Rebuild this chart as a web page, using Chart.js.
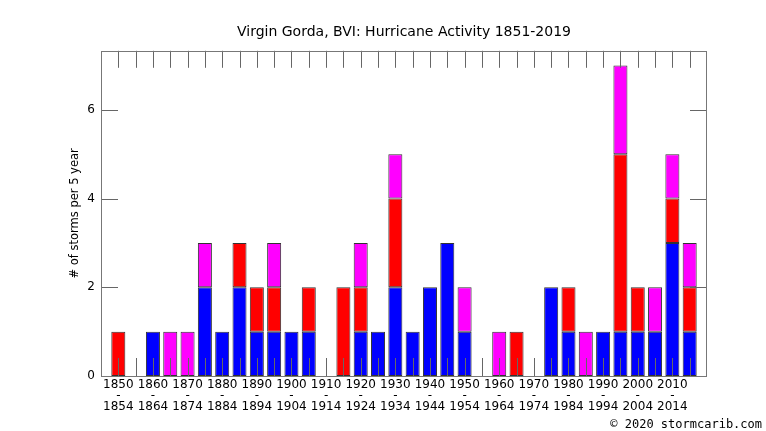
<!DOCTYPE html>
<html>
<head>
<meta charset="utf-8">
<script src="https://cdn.jsdelivr.net/npm/chart.js@4/dist/chart.umd.min.js"></script>
<style>
  html, body { margin: 0; padding: 0; background: #fff; }
  #wrap { width: 766px; height: 431px; position: relative; }
</style>
</head>
<body>
<div id="wrap"><canvas id="stormChart"></canvas></div>
<script>
// 5-year periods, 1850-1854 .. 2015-2019
const periods = [
  '1850-1854', '1855-1859', '1860-1864', '1865-1869', '1870-1874', '1875-1879',
  '1880-1884', '1885-1889', '1890-1894', '1895-1899', '1900-1904', '1905-1909',
  '1910-1914', '1915-1919', '1920-1924', '1925-1929', '1930-1934', '1935-1939',
  '1940-1944', '1945-1949', '1950-1954', '1955-1959', '1960-1964', '1965-1969',
  '1970-1974', '1975-1979', '1980-1984', '1985-1989', '1990-1994', '1995-1999',
  '2000-2004', '2005-2009', '2010-2014', '2015-2019',
];
const blueCounts = [0, 0, 1, 0, 0, 2, 1, 2, 1, 1, 1, 1, 0, 0, 1, 1, 2, 1, 2, 3, 1, 0, 0, 0, 0, 2, 1, 0, 1, 1, 1, 1, 3, 1];
const redCounts = [1, 0, 0, 0, 0, 0, 0, 1, 1, 1, 0, 1, 0, 2, 1, 0, 2, 0, 0, 0, 0, 0, 0, 1, 0, 0, 1, 0, 0, 4, 1, 0, 1, 1];
const magentaCounts = [0, 0, 0, 1, 1, 1, 0, 0, 0, 1, 0, 0, 0, 0, 1, 0, 1, 0, 0, 0, 1, 0, 1, 0, 0, 0, 0, 1, 0, 2, 0, 1, 1, 1];
const yTicks = [0, 2, 4, 6];

const FONT = 'DejaVu Sans';

function toPoints(values) {
  return values.map((v, i) => ({ x: i, y: v || null }));
}

// frame, inward tick marks and copyright line
const frameTicks = {
  id: 'frameTicks',
  afterDatasetsDraw(chart) {
    const { ctx, chartArea: a, scales } = chart;
    ctx.save();
    ctx.lineWidth = 1;
    ctx.strokeStyle = '#666';
    ctx.beginPath();
    periods.forEach((p, i) => {
      const px = Math.round(scales.x.getPixelForValue(i)) + 0.5;
      ctx.moveTo(px, a.bottom);
      ctx.lineTo(px, a.bottom - 18);
      ctx.moveTo(px, a.top);
      ctx.lineTo(px, a.top + 17);
    });
    yTicks.forEach((t) => {
      const py = Math.round(scales.y.getPixelForValue(t)) + 0.5;
      ctx.moveTo(a.left, py);
      ctx.lineTo(a.left + 17, py);
      ctx.moveTo(a.right, py);
      ctx.lineTo(a.right - 17, py);
    });
    ctx.stroke();
    ctx.strokeStyle = '#777';
    ctx.strokeRect(Math.round(a.left) + 0.5, Math.round(a.top) + 0.5,
      Math.round(a.right - a.left) - 1, Math.round(a.bottom - a.top));
    ctx.restore();
  },
  afterDraw(chart) {
    const { ctx } = chart;
    ctx.save();
    ctx.font = '12px "DejaVu Sans Mono"';
    ctx.fillStyle = '#000';
    ctx.textAlign = 'right';
    ctx.textBaseline = 'middle';
    ctx.fillText('\u00a9 2020 stormcarib.com', 762, 425);
    ctx.restore();
  },
};

const ctx = document.getElementById('stormChart').getContext('2d');
new Chart(ctx, {
  type: 'bar',
  data: {
    datasets: [
      { label: 'blue', data: toPoints(blueCounts), backgroundColor: '#0000ff' },
      { label: 'red', data: toPoints(redCounts), backgroundColor: '#ff0000' },
      { label: 'magenta', data: toPoints(magentaCounts), backgroundColor: '#ff00ff' },
    ],
  },
  options: {
    responsive: true,
    maintainAspectRatio: false,
    animation: false,
    layout: { padding: { left: 0, right: 59, top: 0, bottom: 0 } },
    datasets: {
      bar: {
        borderColor: '#333',
        borderWidth: 1,
        borderSkipped: false,
        categoryPercentage: 1,
        barPercentage: 0.81,
      },
    },
    plugins: {
      legend: { display: false },
      tooltip: { enabled: false },
      title: {
        display: true,
        text: 'Virgin Gorda, BVI: Hurricane Activity 1851-2019',
        color: '#000',
        fullSize: false,
        font: { family: FONT, size: 14, weight: 'normal', lineHeight: 1.2 },
        padding: { top: 24, bottom: 10 },
      },
    },
    scales: {
      x: {
        type: 'linear',
        stacked: true,
        offset: false,
        min: -1,
        max: 34,
        grid: { display: false, drawTicks: false },
        border: { display: false },
        afterFit: (s) => { s.height = 55; },
        ticks: {
          stepSize: 1,
          autoSkip: false,
          maxRotation: 0,
          includeBounds: false,
          padding: 3,
          color: '#000',
          font: { family: FONT, size: 12, lineHeight: 0.94 },
          callback: (v) => {
            if (v < 0 || v % 2 !== 0 || v > 32) return '';
            const [a, b] = periods[v].split('-');
            return [a, '-', b];
          },
        },
      },
      y: {
        stacked: true,
        min: 0,
        max: 7.33,
        grid: { display: false, drawTicks: false },
        border: { display: false },
        afterFit: (s) => { s.width = 101; },
        ticks: {
          stepSize: 2,
          includeBounds: false,
          padding: 6,
          color: '#000',
          font: { family: FONT, size: 12 },
        },
        title: {
          display: true,
          text: '# of storms per 5 year',
          color: '#000',
          font: { family: FONT, size: 11.5, lineHeight: 1.2 },
          padding: { top: 68, bottom: 4 },
        },
      },
    },
  },
  plugins: [frameTicks],
});
</script>
</body>
</html>
